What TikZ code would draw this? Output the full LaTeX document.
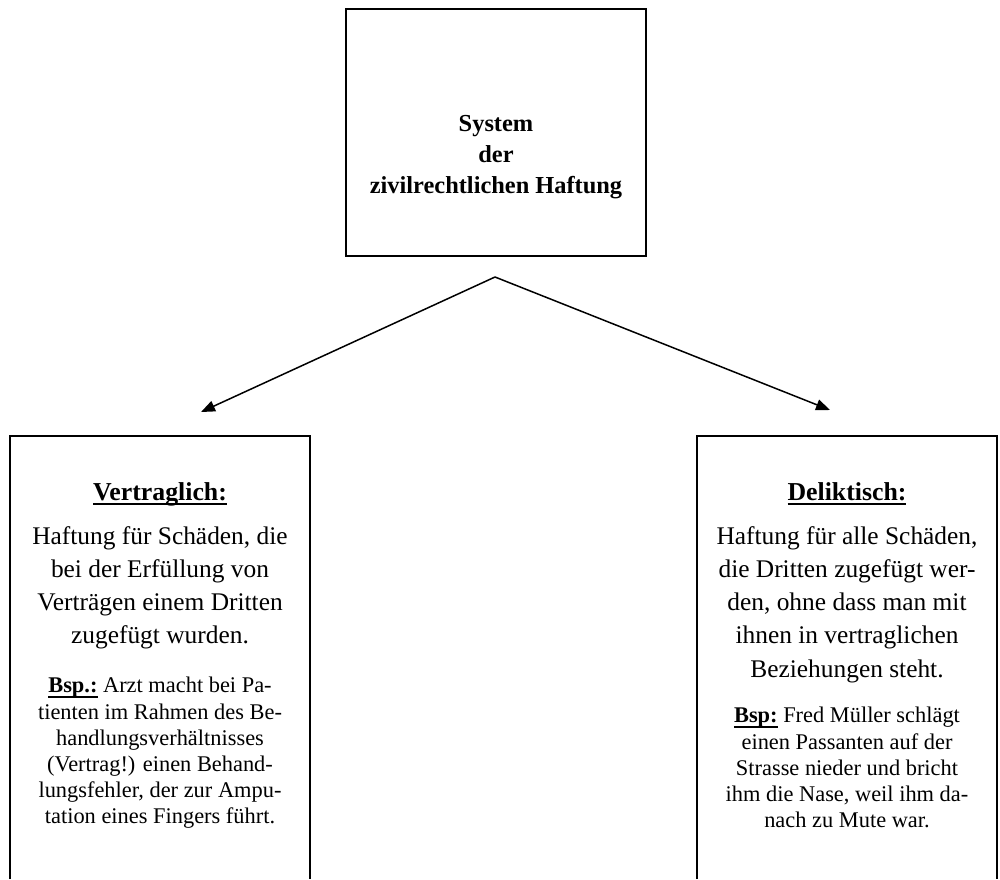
\documentclass[tikz,border=0pt]{standalone}
\usepackage{fontspec}
\setmainfont{Liberation Serif}
\usetikzlibrary{arrows.meta}
\newcommand{\unterstr}[1]{\setbox0\hbox{#1}\rlap{\rule[-2.3pt]{\wd0}{1pt}}\box0}
\begin{document}
\begin{tikzpicture}[x=0.5pt, y=-0.5pt, line join=miter, >={Triangle[length=7pt,width=5.5pt]},
	kasten/.style={draw, line width=1pt},
	titel/.style={font=\fontsize{12.2}{15.5}\selectfont\bfseries, inner sep=0pt, anchor=north, align=center},
	kopf/.style={font=\fontsize{12.9}{16.5}\selectfont\bfseries, inner sep=0pt, anchor=north, align=center},
	rumpf/.style={font=\fontsize{12.7}{16.6}\selectfont, inner sep=0pt, anchor=north, align=center},
	bsp/.style={font=\fontsize{11.2}{13.1}\selectfont, inner sep=0pt, anchor=north, align=center}]
			\useasboundingbox (0,0) rectangle (1000,879);
			\path
			(345,8) coordinate (A)
			(10,436) coordinate (L)
			(697,436) coordinate (R)
			(495,277) coordinate (spitze)
			(201,412) coordinate (links)
			(830,410) coordinate (rechts)
			;
			\node[kasten, minimum width=150pt, minimum height=123.5pt, anchor=north west, inner sep=0pt] (system) at (A) {};
			\node[titel] (systemtext) at ([yshift=-53.5pt]system.north) {System\\der\\zivilrechtlichen Haftung};
			% offene Kaesten unten
			\draw[kasten] (10,879) |- (310,436) -- (310,879);
			\draw[kasten] (697,879) |- (997,436) -- (997,879);
			\coordinate (vmitte) at (160,436);
			\coordinate (dmitte) at (847,436);
			\node[kopf] (vkopf) at ([yshift=-23pt]vmitte) {\unterstr{Vertraglich:}};
			\node[rumpf] (vrumpf) at ([yshift=-45pt]vmitte) {Haftung für Schäden, die\\bei der Erfüllung von\\Verträgen einem Dritten\\zugefügt wurden.};
			\node[bsp] (vbsp) at ([yshift=-120.5pt]vmitte) {\textbf{\unterstr{Bsp.:}} Arzt macht bei Pa-\\tienten im Rahmen des Be-\\handlungsverhältnisses\\(Vertrag!) einen Behand-\\lungsfehler, der zur Ampu-\\tation eines Fingers führt.};
			\node[kopf] (dkopf) at ([yshift=-23pt]dmitte) {\unterstr{Deliktisch:}};
			\node[rumpf] (drumpf) at ([yshift=-45pt]dmitte) {Haftung für alle Schäden,\\die Dritten zugefügt wer-\\den, ohne dass man mit\\ihnen in vertraglichen\\Beziehungen steht.};
			\node[bsp] (dbsp) at ([yshift=-135.5pt]dmitte) {\textbf{\unterstr{Bsp:}} Fred Müller schlägt\\einen Passanten auf der\\Strasse nieder und bricht\\ihm die Nase, weil ihm da-\\nach zu Mute war.};
			\foreach \z in {links,rechts}
			\draw[->, line width=0.75pt] (spitze)--(\z);
		\end{tikzpicture}
\end{document}
